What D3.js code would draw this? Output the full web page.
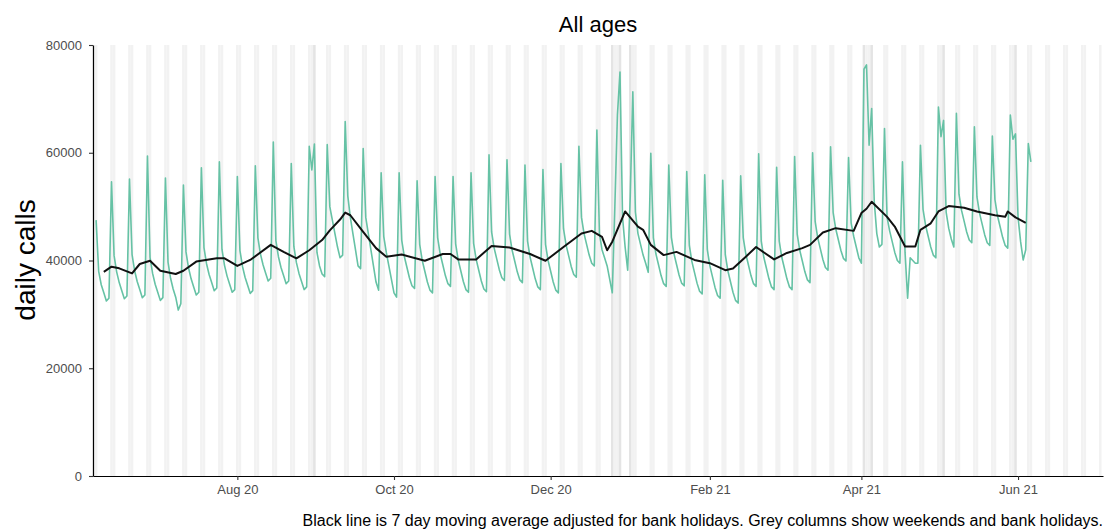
<!DOCTYPE html>
<html>
<head>
<meta charset="utf-8">
<script src="https://cdn.jsdelivr.net/npm/d3@7"></script>
<style>
  body { margin: 0; background: #fff; }
  text { font-family: "Liberation Sans", Arial, sans-serif; }
</style>
</head>
<body>
<div id="chart"></div>
<script>
// daily calls, one value per day starting Sun 7 Jun 2020 (rows run Sat..Fri)
var startDate = "2020-06-07";
var dailyCalls = [
  47500, 38000, 35500, 34000, 32500, 33000,
  54600, 40900, 37900, 35900, 34400, 32900, 33400,
  55100, 41100, 38100, 36100, 34600, 33100, 33600,
  59400, 40600, 37600, 35600, 34100, 32600, 33100,
  55300, 39700, 36700, 34700, 33200, 30800, 32000,
  54000, 41600, 38600, 36600, 35100, 33600, 34100,
  57200, 42400, 39400, 37400, 35900, 34400, 34900,
  58300, 42100, 39100, 37100, 35600, 34100, 34600,
  55600, 41900, 38900, 36900, 35400, 33900, 34400,
  57600, 44200, 41200, 39200, 37700, 36200, 36700,
  62000, 43700, 40700, 38700, 37200, 35700, 36200,
  58000, 42600, 39600, 37600, 36100, 34600, 35100,
  61200, 56800, 61600, 41500, 39000, 37500, 37000,
  61500, 50000, 47500, 45000, 42500, 40500, 41000,
  65800, 52000, 48000, 45000, 42000, 39000, 38500,
  60800, 48000, 45000, 42000, 39000, 36000, 34500,
  56300, 44500, 41500, 39000, 36500, 34000, 33200,
  56300, 43800, 40800, 38800, 36800, 35300, 34800,
  54800, 43000, 40000, 38000, 36000, 34500, 34000,
  55600, 44200, 41200, 39200, 37200, 35700, 35200,
  55600, 43100, 40100, 38100, 36100, 34600, 34100,
  56300, 43200, 40200, 38200, 36200, 34700, 34200,
  59600, 45300, 42300, 40300, 38300, 36800, 36300,
  58700, 44900, 41900, 39900, 37900, 36400, 35900,
  57700, 43600, 40600, 38600, 36600, 35100, 34600,
  56900, 43000, 40000, 38000, 36000, 34500, 34000,
  58000, 45900, 42900, 40900, 38900, 37400, 36900,
  61200, 48000, 45000, 43000, 41000, 39500, 39000,
  64200, 45000, 42000, 40500, 39000, 36500, 34000,
  50000, 67000, 75000, 48000, 42500, 38200, 52000,
  71300, 49000, 45000, 43000, 41000, 39500, 37800,
  59900, 44200, 41200, 39200, 37200, 35700, 35200,
  57700, 44300, 41300, 39300, 37300, 35800, 35300,
  56500, 42800, 39800, 37800, 35800, 34300, 33800,
  55900, 42000, 39000, 37000, 35000, 33500, 33000,
  54900, 41100, 38100, 36100, 34100, 32600, 32100,
  55700, 44200, 41200, 39200, 37200, 35700, 35200,
  59800, 43600, 40600, 38600, 36600, 35100, 34600,
  57300, 43600, 40600, 38600, 36600, 35100, 34600,
  59300, 44900, 41900, 39900, 37900, 36400, 35900,
  60000, 47200, 44200, 42200, 40200, 38700, 38200,
  61100, 48900, 45900, 43900, 41900, 40400, 39900,
  59100, 47000, 44500, 42500, 40500, 39500, 75500,
  76300, 61400, 68200, 51000, 45000, 42500, 43000,
  64500, 48000, 45500, 43500, 41500, 40000, 39500,
  58300, 41500, 33000, 40500, 40000, 39500, 39500,
  61400, 49500, 46500, 44500, 42500, 41000, 40500,
  68500, 63000, 66000, 49000, 46000, 44000, 42500,
  67300, 52300, 49300, 47300, 45300, 43800, 43300,
  64800, 51800, 48800, 46800, 44800, 43300, 42800,
  63100, 51300, 48300, 46300, 44300, 42800, 42300,
  67000, 62500, 63500, 48000, 43500, 40100, 42000,
  61700, 58300
];

// 7 day moving average
var maDates = [
  "2020-06-10","2020-06-13","2020-06-16","2020-06-21","2020-06-24","2020-06-28",
  "2020-07-02","2020-07-08","2020-07-11","2020-07-16","2020-07-24","2020-07-27",
  "2020-08-01","2020-08-06","2020-08-14","2020-08-19","2020-08-24","2020-08-29",
  "2020-09-03","2020-09-06","2020-09-10","2020-09-12","2020-09-14","2020-09-19",
  "2020-09-24","2020-09-28","2020-10-04","2020-10-13","2020-10-20","2020-10-23",
  "2020-10-26","2020-11-02","2020-11-08","2020-11-15","2020-11-23","2020-11-29",
  "2020-12-06","2020-12-13","2020-12-17","2020-12-21","2020-12-23","2020-12-25",
  "2020-12-30","2021-01-04","2021-01-06","2021-01-09","2021-01-14","2021-01-19",
  "2021-01-26","2021-02-01","2021-02-07","2021-02-10","2021-02-15","2021-02-19",
  "2021-02-26","2021-03-03","2021-03-09","2021-03-12","2021-03-17","2021-03-22",
  "2021-03-29","2021-04-01","2021-04-03","2021-04-05","2021-04-11","2021-04-14",
  "2021-04-18","2021-04-22","2021-04-24","2021-04-28","2021-05-01","2021-05-05",
  "2021-05-11","2021-05-16","2021-05-23","2021-05-27","2021-05-28","2021-05-31",
  "2021-06-04"
];
var maValues = [
  37900, 38850, 38550, 37600, 39350, 39950,
  38100, 37500, 38100, 39800, 40400, 40400,
  39000, 40100, 42900, 41600, 40400, 41900,
  43800, 45600, 47600, 48900, 48400, 45300,
  42300, 40700, 41100, 39950, 41200, 41200,
  40200, 40200, 42700, 42400, 41200, 39950,
  42500, 45000, 45500, 44400, 41900, 43500,
  49100, 46300, 45700, 42900, 41000, 41600,
  40100, 39500, 38200, 38500, 40700, 42500,
  40200, 41400, 42300, 42900, 45200, 46000,
  45500, 48800, 49600, 50900, 48100, 46300,
  42600, 42600, 45700, 46900, 49100, 50100,
  49800, 49100, 48400, 48100, 49100, 48000,
  47000
];

var bankHolidays = ["2020-08-31", "2020-12-25", "2020-12-28", "2021-01-01",
                    "2021-04-02", "2021-04-05", "2021-05-03", "2021-05-31"];
var yTicks = [0, 20000, 40000, 60000, 80000];
var xTickDates = ["2020-08-01", "2020-10-01", "2020-12-01", "2021-02-01", "2021-04-01", "2021-06-01"];
var xTickLabels = ["Aug 20", "Oct 20", "Dec 20", "Feb 21", "Apr 21", "Jun 21"];

var width = 1106, height = 531;
var margin = {top: 45, right: 3, bottom: 55, left: 93};
var parseDate = d3.timeParse("%Y-%m-%d");
var fmtDay = d3.timeFormat("%Y-%m-%d");

var svg = d3.select("#chart").append("svg")
  .attr("width", width)
  .attr("height", height);

var xScale = d3.scaleTime()
  .domain([new Date(2020, 5, 5, 19), new Date(2021, 6, 4, 2)])
  .range([margin.left, width - margin.right]);

var yScale = d3.scaleLinear()
  .domain([0, 80000])
  .range([height - margin.bottom, margin.top]);

var y0 = yScale(0), y1 = yScale(80000);

// grey columns for weekends and bank holidays
var bhSet = new Set(bankHolidays);
var days = d3.timeDay.range(new Date(2020, 5, 6), new Date(2021, 6, 4));
var offDays = days.filter(function(d) {
  return d.getDay() === 0 || d.getDay() === 6 || bhSet.has(fmtDay(d));
});

svg.append("g")
  .selectAll("rect")
  .data(offDays)
  .enter()
  .append("rect")
  .attr("x", function(d) { return xScale(d3.timeHour.offset(d, -12)); })
  .attr("width", function(d) { return xScale(d3.timeHour.offset(d, 12)) - xScale(d3.timeHour.offset(d, -12)); })
  .attr("y", y1)
  .attr("height", y0 - y1)
  .attr("fill", function(d) { return bhSet.has(fmtDay(d)) ? "#e4e4e4" : "#f2f2f2"; });

// daily calls line
var start = parseDate(startDate);
var daily = dailyCalls.map(function(v, i) {
  return {date: d3.timeDay.offset(start, i), value: v};
});

var line = d3.line()
  .x(function(d) { return xScale(d.date); })
  .y(function(d) { return yScale(d.value); });

svg.append("path")
  .datum(daily)
  .attr("fill", "none")
  .attr("stroke", "#66c2a5")
  .attr("stroke-width", 1.6)
  .attr("stroke-linejoin", "round")
  .attr("d", line);

// moving average
var ma = maDates.map(function(d, i) { return {date: parseDate(d), value: maValues[i]}; });

svg.append("path")
  .datum(ma)
  .attr("fill", "none")
  .attr("stroke", "#111")
  .attr("stroke-width", 2)
  .attr("stroke-linejoin", "round")
  .attr("d", line);

// axes
var xAxis = svg.append("g")
  .attr("transform", "translate(0," + y0 + ")")
  .call(d3.axisBottom(xScale)
    .tickValues(xTickDates.map(parseDate))
    .tickFormat(function(d, i) { return xTickLabels[i]; })
    .tickSize(4)
    .tickPadding(5)
    .tickSizeOuter(0));

var yAxis = svg.append("g")
  .attr("transform", "translate(" + margin.left + ",0)")
  .call(d3.axisLeft(yScale)
    .tickValues(yTicks)
    .tickFormat(d3.format("d"))
    .tickSize(4)
    .tickPadding(7)
    .tickSizeOuter(0));

[xAxis, yAxis].forEach(function(a) {
  a.select(".domain").attr("stroke", "#000").attr("stroke-width", 1.2);
  a.selectAll(".tick line").attr("stroke", "#333").attr("stroke-width", 1.1);
  a.selectAll(".tick text")
    .attr("fill", "#4d4d4d")
    .style("font-size", "13px")
    .style("font-family", "'Liberation Sans', Arial, sans-serif");
});

// title, y label, caption
svg.append("text")
  .attr("x", (margin.left + width - margin.right) / 2)
  .attr("y", 32)
  .attr("text-anchor", "middle")
  .style("font-size", "22px")
  .text("All ages");

svg.append("text")
  .attr("transform", "rotate(-90)")
  .attr("x", -260)
  .attr("y", 35)
  .attr("text-anchor", "middle")
  .style("font-size", "28px")
  .text("daily calls");

svg.append("text")
  .attr("x", width - 3)
  .attr("y", 526)
  .attr("text-anchor", "end")
  .style("font-size", "16px")
  .text("Black line is 7 day moving average adjusted for bank holidays. Grey columns show weekends and bank holidays.");
</script>
</body>
</html>
